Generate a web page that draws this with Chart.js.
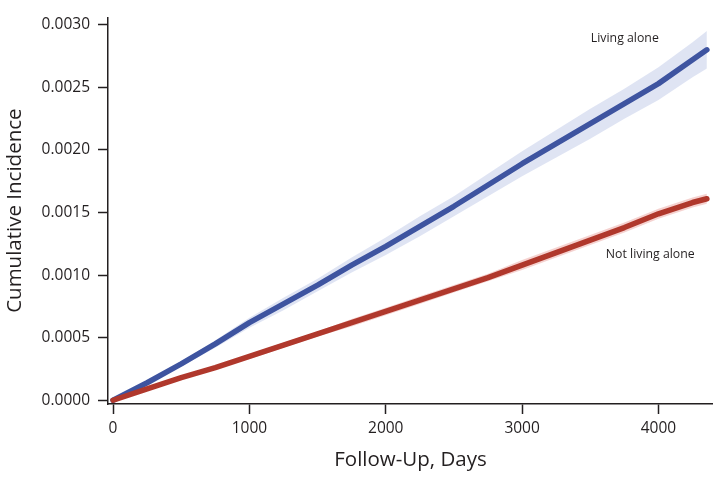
<!DOCTYPE html>
<html>
<head>
<meta charset="utf-8">
<script src="https://cdn.jsdelivr.net/npm/chart.js@4"></script>
<style>
  html, body { margin: 0; padding: 0; background: #ffffff; }
  #wrap { width: 713px; height: 479px; }
</style>
</head>
<body>
<div id="wrap"><canvas id="c" width="713" height="479"></canvas></div>
<script>
const DAYS = [0, 250, 500, 750, 1000, 1250, 1500, 1750, 2000, 2250, 2500, 2750, 3000, 3250, 3500, 3750, 4000, 4250, 4355];
const LIVING_ALONE = [0, 0.00014, 0.00029, 0.00045, 0.00062, 0.00077, 0.00092, 0.00108, 0.00123, 0.00139, 0.00155, 0.00172, 0.00189, 0.00205, 0.00221, 0.00237, 0.00253, 0.00272, 0.00280];
const LIVING_ALONE_LOW = [0, 0.00013, 0.00027, 0.00042, 0.00058, 0.00072, 0.00087, 0.00102, 0.00116, 0.00131, 0.00147, 0.00163, 0.00179, 0.00194, 0.00209, 0.00225, 0.00240, 0.00258, 0.00265];
const LIVING_ALONE_HIGH = [0, 0.00015, 0.00031, 0.00048, 0.00066, 0.00082, 0.00097, 0.00114, 0.00130, 0.00147, 0.00163, 0.00181, 0.00199, 0.00216, 0.00233, 0.00249, 0.00266, 0.00286, 0.00295];
const NOT_ALONE = [0, 0.00009, 0.00018, 0.00026, 0.00035, 0.00044, 0.00053, 0.00062, 0.00071, 0.00080, 0.00089, 0.00098, 0.00108, 0.00118, 0.00128, 0.00138, 0.00149, 0.00158, 0.00161];
const NOT_ALONE_LOW = [0, 0.000085, 0.00017, 0.00025, 0.00033, 0.00042, 0.00051, 0.00059, 0.00068, 0.00077, 0.00086, 0.00095, 0.00104, 0.00114, 0.00124, 0.00134, 0.00145, 0.00154, 0.00157];
const NOT_ALONE_HIGH = [0, 0.000095, 0.00019, 0.00027, 0.00037, 0.00046, 0.00055, 0.00065, 0.00074, 0.00083, 0.00092, 0.00101, 0.00112, 0.00122, 0.00132, 0.00142, 0.00153, 0.00162, 0.00165];
const X_TICKS = [0, 1000, 2000, 3000, 4000];
const Y_TICKS = [0, 0.0005, 0.0010, 0.0015, 0.0020, 0.0025, 0.0030];
const SERIES_LABELS = ['Living alone', 'Not living alone'];

const pts = (arr) => DAYS.map((d, i) => ({ x: d, y: arr[i] }));

const BLUE = 'rgb(62,84,160)';
const RED = 'rgb(176,56,44)';
const BLUE_BAND = 'rgba(196,206,234,0.55)';
const RED_BAND = 'rgba(238,180,176,0.6)';
const FONT = "'Open Sans', 'Noto Sans', sans-serif";
const INK = '#231f20';

const annotations = {
  id: 'annotations',
  afterDatasetsDraw(chart) {
    const { ctx, scales: { x, y } } = chart;
    ctx.save();
    ctx.font = "12.3px " + FONT;
    ctx.fillStyle = INK;
    ctx.textAlign = 'left';
    ctx.textBaseline = 'middle';
    ctx.fillText(SERIES_LABELS[0], x.getPixelForValue(3504), y.getPixelForValue(0.00289));
    ctx.fillText(SERIES_LABELS[1], x.getPixelForValue(3614), y.getPixelForValue(0.001164));
    ctx.restore();
  }
};

new Chart(document.getElementById('c'), {
  type: 'line',
  data: {
    datasets: [
      { label: SERIES_LABELS[0], data: pts(LIVING_ALONE), borderColor: BLUE, borderWidth: 5.5, pointRadius: 0, fill: false, borderCapStyle: 'round', borderJoinStyle: 'round', order: 1 },
      { label: SERIES_LABELS[1], data: pts(NOT_ALONE), borderColor: RED, borderWidth: 5.5, pointRadius: 0, fill: false, borderCapStyle: 'round', borderJoinStyle: 'round', order: 0 },
      { label: 'la_low', data: pts(LIVING_ALONE_LOW), borderWidth: 0, borderColor: 'rgba(0,0,0,0)', pointRadius: 0, fill: false, order: 5 },
      { label: 'la_high', data: pts(LIVING_ALONE_HIGH), borderWidth: 0, borderColor: 'rgba(0,0,0,0)', pointRadius: 0, fill: '-1', backgroundColor: BLUE_BAND, order: 4 },
      { label: 'na_low', data: pts(NOT_ALONE_LOW), borderWidth: 0, borderColor: 'rgba(0,0,0,0)', pointRadius: 0, fill: false, order: 5 },
      { label: 'na_high', data: pts(NOT_ALONE_HIGH), borderWidth: 0, borderColor: 'rgba(0,0,0,0)', pointRadius: 0, fill: '-1', backgroundColor: RED_BAND, order: 4 }
    ]
  },
  options: {
    responsive: false,
    animation: false,
    layout: { padding: { top: 3, right: 0, left: 0, bottom: 0 } },
    plugins: { legend: { display: false }, tooltip: { enabled: false } },
    scales: {
      x: {
        type: 'linear',
        min: -37,
        max: 4400,
        afterBuildTicks: (s) => { s.ticks = X_TICKS.map(v => ({ value: v })); },
        afterFit: (s) => { s.height = 75; },
        border: { display: true, color: INK, width: 1.5 },
        grid: { drawOnChartArea: false, drawTicks: true, tickLength: 10, tickColor: INK, tickWidth: 1.5 },
        ticks: { color: INK, font: { family: FONT, size: 15.5 }, padding: 5, maxRotation: 0, callback: (v) => String(v) },
        title: { display: true, text: 'Follow-Up, Days', color: INK, font: { family: FONT, size: 20.5 }, padding: { top: 4, bottom: 7 } }
      },
      y: {
        type: 'linear',
        min: -0.00003,
        max: 0.00306,
        afterBuildTicks: (s) => { s.ticks = Y_TICKS.map(v => ({ value: v })); },
        afterFit: (s) => { s.width = 108; },
        border: { display: true, color: INK, width: 1.5 },
        grid: { drawOnChartArea: false, drawTicks: true, tickLength: 10, tickColor: INK, tickWidth: 1.5 },
        ticks: { color: INK, font: { family: FONT, size: 15.5 }, padding: 8, callback: (v) => Number(v).toFixed(4) },
        title: { display: true, text: 'Cumulative Incidence', color: INK, font: { family: FONT, size: 20.5 }, padding: { top: 3, bottom: 4 } }
      }
    }
  },
  plugins: [annotations]
});
</script>
</body>
</html>
